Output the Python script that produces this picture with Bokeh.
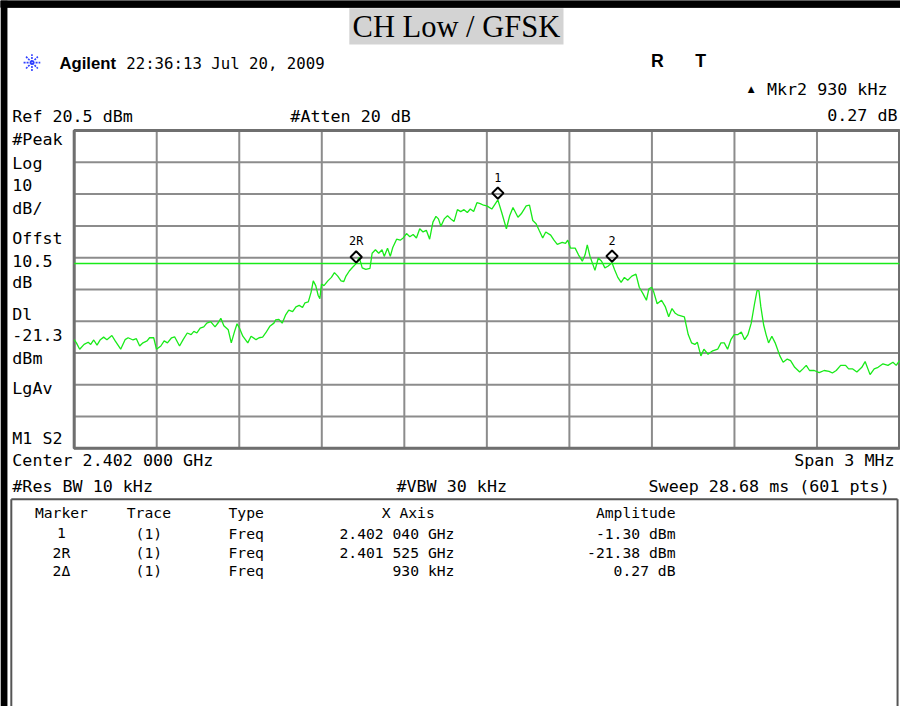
from bokeh.plotting import figure
from bokeh.models import Range1d, ColumnDataSource
from bokeh.embed import file_html
from bokeh.resources import INLINE
from bokeh.core.properties import value
import numpy as np

# ---------------- data ----------------
center_ghz = 2.402
span_mhz = 3.0
ref_level_dbm = 20.5
db_per_div = 10.0
n_div = 10
display_line_dbm = -21.3

freq_offset_mhz = [
    -1.500, -1.492, -1.480, -1.464, -1.449, -1.440, -1.429, -1.417, -1.405, -1.393,
    -1.381, -1.363, -1.351, -1.331, -1.315, -1.304, -1.286, -1.274, -1.262, -1.250,
    -1.235, -1.226, -1.211, -1.201, -1.185, -1.173, -1.161, -1.146, -1.135, -1.117,
    -1.104, -1.089, -1.075, -1.065, -1.054, -1.042, -1.029, -1.018, -1.004, -0.988,
    -0.976, -0.967, -0.956, -0.940, -0.929, -0.917, -0.908, -0.899, -0.887, -0.869,
    -0.857, -0.839, -0.828, -0.815, -0.804, -0.789, -0.774, -0.768, -0.756, -0.744,
    -0.732, -0.720, -0.706, -0.694, -0.682, -0.670, -0.661, -0.649, -0.639, -0.631,
    -0.622, -0.613, -0.607, -0.601, -0.592, -0.578, -0.565, -0.554, -0.542, -0.530,
    -0.520, -0.512, -0.500, -0.488, -0.475, -0.464, -0.453, -0.440, -0.425, -0.417,
    -0.405, -0.393, -0.381, -0.373, -0.361, -0.351, -0.342, -0.328, -0.315, -0.304,
    -0.292, -0.280, -0.268, -0.256, -0.244, -0.232, -0.220, -0.208, -0.196, -0.185,
    -0.176, -0.167, -0.155, -0.143, -0.131, -0.119, -0.107, -0.095, -0.083, -0.071,
    -0.060, -0.048, -0.036, -0.024, -0.012, 0.000, 0.018, 0.040, 0.054, 0.071,
    0.083, 0.095, 0.113, 0.125, 0.143, 0.155, 0.167, 0.179, 0.190, 0.203,
    0.214, 0.232, 0.244, 0.256, 0.274, 0.286, 0.294, 0.304, 0.321, 0.333,
    0.347, 0.357, 0.365, 0.375, 0.393, 0.405, 0.417, 0.429, 0.440, 0.455,
    0.464, 0.476, 0.488, 0.500, 0.512, 0.527, 0.542, 0.554, 0.568, 0.580,
    0.589, 0.599, 0.607, 0.619, 0.635, 0.649, 0.661, 0.673, 0.685, 0.696,
    0.718, 0.732, 0.744, 0.756, 0.765, 0.778, 0.789, 0.804, 0.821, 0.839,
    0.851, 0.863, 0.875, 0.887, 0.899, 0.913, 0.925, 0.937, 0.949, 0.961,
    0.973, 0.982, 0.989, 0.996, 1.006, 1.015, 1.024, 1.036, 1.048, 1.065,
    1.077, 1.092, 1.104, 1.119, 1.137, 1.149, 1.161, 1.173, 1.190, 1.208,
    1.226, 1.244, 1.256, 1.270, 1.286, 1.304, 1.315, 1.330, 1.345, 1.363,
    1.375, 1.393, 1.408, 1.422, 1.440, 1.458, 1.476, 1.488, 1.500,
]
amplitude_dbm = [
    -45.3, -46.3, -48.3, -46.8, -46.1, -46.8, -45.4, -47.0, -45.3, -44.5,
    -45.3, -44.0, -45.7, -48.3, -45.3, -44.7, -45.4, -45.0, -47.3, -46.3,
    -45.7, -44.7, -44.7, -48.3, -47.3, -45.7, -46.3, -44.7, -44.4, -47.3,
    -45.3, -43.2, -43.7, -42.7, -43.2, -41.7, -41.3, -40.1, -39.6, -41.3,
    -39.9, -38.6, -40.9, -42.2, -46.3, -42.7, -40.3, -41.7, -44.2, -46.3,
    -44.2, -45.3, -44.7, -44.5, -43.2, -41.1, -40.1, -39.1, -38.9, -40.1,
    -37.6, -36.0, -36.5, -35.0, -34.5, -35.2, -33.7, -33.4, -30.4, -26.8,
    -28.3, -31.4, -32.4, -27.8, -28.3, -26.8, -25.7, -24.2, -25.3, -26.8,
    -27.0, -25.3, -23.7, -22.5, -21.38, -19.4, -22.7, -23.2, -22.9, -18.1,
    -17.0, -18.1, -17.0, -19.1, -16.5, -19.1, -16.3, -13.7, -14.0, -13.3,
    -11.9, -12.9, -12.2, -13.3, -10.4, -11.4, -10.9, -13.7, -8.3, -6.5,
    -7.3, -9.6, -7.3, -6.3, -7.3, -8.1, -4.4, -5.0, -4.4, -5.3,
    -4.2, -5.0, -2.2, -2.5, -3.0, -3.2, -4.2, -1.30, -5.3, -10.4,
    -6.3, -3.7, -6.8, -5.7, -3.2, -3.0, -7.8, -8.8, -10.9, -13.3,
    -11.4, -12.4, -14.0, -15.3, -14.7, -15.0, -14.0, -16.5, -16.5, -18.6,
    -20.6, -18.6, -15.5, -19.1, -23.5, -19.6, -20.6, -22.7, -22.2, -21.11,
    -23.2, -25.7, -27.3, -25.7, -26.6, -25.3, -24.7, -28.8, -30.9, -32.9,
    -29.3, -28.8, -30.4, -34.0, -32.9, -35.0, -38.1, -35.5, -37.0, -37.6,
    -38.1, -43.7, -46.3, -46.8, -46.1, -50.4, -48.3, -49.9, -48.8, -48.3,
    -46.3, -46.3, -48.3, -45.3, -43.7, -43.7, -42.9, -45.3, -43.7, -40.1,
    -34.0, -29.9, -29.9, -35.0, -40.6, -43.7, -46.3, -44.2, -46.3, -50.4,
    -52.4, -51.4, -51.9, -54.0, -55.5, -54.5, -53.4, -55.0, -55.0, -55.7,
    -55.0, -55.3, -55.8, -55.0, -53.4, -53.4, -54.5, -54.5, -55.5, -54.0,
    -52.2, -56.3, -54.5, -54.0, -52.9, -53.4, -52.4, -53.4, -51.9,
]

marker_names = ["1", "2R", "2"]
marker_offset_mhz = [0.040, -0.475, 0.455]
marker_dbm = [-1.30, -21.38, -21.11]

table_header = ["Marker", "Trace", "Type", "X Axis", "Amplitude"]
table_marker = ["1", "2R", "2\u0394"]
table_trace = ["(1)", "(1)", "(1)"]
table_type = ["Freq", "Freq", "Freq"]
table_xaxis = ["2.402 040 GHz", "2.401 525 GHz", "930 kHz"]
table_amp = ["-1.30 dBm", "-21.38 dBm", "0.27 dB"]

left_labels = ["#Peak", "Log", "10", "dB/", "Offst", "10.5", "dB", "Dl",
               "-21.3", "dBm", "LgAv", "M1  S2"]

# ---------------- layout (reference image pixel space 916 x 722) ----------------
W, H = 900, 706
RW, RH = 916, 722                              # reference space mapped onto canvas
GX0, GX1, GY0, GY1 = 75, 915, 133, 458         # graticule box in reference pixels
S = W / RW                                     # font scale

bottom_dbm = ref_level_dbm - db_per_div * n_div
mhz_per_px = span_mhz / (GX1 - GX0)
db_per_px = (ref_level_dbm - bottom_dbm) / (GY1 - GY0)
x_range = Range1d(-span_mhz / 2 - GX0 * mhz_per_px,
                  span_mhz / 2 + (RW - GX1) * mhz_per_px)
y_range = Range1d(bottom_dbm - (RH - GY1) * db_per_px,
                  ref_level_dbm + GY0 * db_per_px)

p = figure(width=W, height=H, x_range=x_range, y_range=y_range,
           min_border=0, x_axis_location=None, y_axis_location=None,
           toolbar_location=None, output_backend="svg", title=None,
           outline_line_color=None, background_fill_color="white",
           border_fill_color="white")
p.xgrid.grid_line_color = None
p.ygrid.grid_line_color = None
p.extra_x_ranges = {"px": Range1d(0, RW)}
p.extra_y_ranges = {"px": Range1d(RH, 0)}
PXR = dict(x_range_name="px", y_range_name="px")

MONO = value("DejaVu Sans Mono")


def fs(px):
    return "%.1fpx" % (px * S)


# ---------- outer black frame (top and left) ----------
p.quad(left=[0], right=[RW], top=[0], bottom=[7], fill_color="black",
       line_color="black", line_width=1, **PXR)
p.segment(x0=[3.5], y0=[0], x1=[3.5], y1=[RH], line_color="black", line_width=7, **PXR)

# ---------- graticule ----------
xt = np.linspace(-span_mhz / 2, span_mhz / 2, n_div + 1)
yt = np.linspace(bottom_dbm, ref_level_dbm, n_div + 1)
grid_col = "#8c8c8c"
p.segment(x0=xt, y0=bottom_dbm, x1=xt, y1=ref_level_dbm, line_color=grid_col, line_width=2)
p.segment(x0=-span_mhz / 2, y0=yt, x1=span_mhz / 2, y1=yt, line_color=grid_col, line_width=2)
p.quad(left=-span_mhz / 2, right=span_mhz / 2, bottom=bottom_dbm, top=ref_level_dbm,
       fill_color=None, line_color="#6f6f6f", line_width=3)

# display line + trace
green = "#19ea19"
p.segment(x0=-span_mhz / 2, y0=display_line_dbm, x1=span_mhz / 2, y1=display_line_dbm,
          line_color=green, line_width=1.5)
p.line(freq_offset_mhz, amplitude_dbm, line_color=green, line_width=1.3)

# markers (diamond drawn just above the marker point, label above that)
mk_y = np.array(marker_dbm)
p.scatter(marker_offset_mhz, mk_y + 2.1, marker="square", angle=np.pi / 4, size=8,
          fill_color=None, line_color="black", line_width=2)
p.text(marker_offset_mhz, mk_y + 7.0, text=marker_names, text_font=MONO,
       text_font_size=fs(12), text_align="center", text_baseline="middle",
       text_color="black")

# ---------- title box ----------
p.quad(left=355, right=573, top=8, bottom=45, fill_color="#d3d3d3", line_color=None, **PXR)
p.text([464], [27], text=["CH Low / GFSK"], text_font=value("Liberation Serif"),
       text_font_size=fs(31), text_align="center", text_baseline="middle",
       text_color="black", **PXR)

# ---------- header ----------
p.scatter([32], [63.5], marker="asterisk", size=17 * S, line_color="#3040ff",
          line_width=1.6, line_dash="2 1", **PXR)
p.text([60], [64], text=["Agilent"], text_font=value("Liberation Sans"),
       text_font_style="bold", text_font_size=fs(17), text_baseline="middle",
       text_color="black", **PXR)
p.text([128], [64], text=["22:36:13  Jul 20, 2009"], text_font=MONO,
       text_font_size=fs(16), text_baseline="middle", text_color="black", **PXR)
p.text([662, 707], [62, 62], text=["R", "T"], text_font=value("Liberation Sans"),
       text_font_style="bold", text_font_size=fs(18), text_baseline="middle",
       text_color="black", **PXR)
p.text([764], [91], text=["\u25b2"], text_font=value("DejaVu Sans"),
       text_font_size=fs(9), text_align="center", text_baseline="middle",
       text_color="black", **PXR)

left_src = ColumnDataSource(dict(
    x=[12, 295, 12, 12, 403] + [12] * len(left_labels),
    y=[118, 118, 470, 497, 497] + [142, 166, 189, 212, 243, 266, 288, 321, 342, 366, 396, 447],
    t=["Ref 20.5 dBm", "#Atten 20 dB", "Center 2.402 000 GHz", "#Res BW 10 kHz",
       "#VBW 30 kHz"] + left_labels))
p.text("x", "y", text="t", source=left_src, text_font=MONO, text_font_size=fs(17),
       text_baseline="middle", text_color="black", **PXR)

right_src = ColumnDataSource(dict(
    x=[913, 913, 910, 905], y=[91, 117, 470, 497],
    t=["Mkr2  930 kHz", "0.27 dB", "Span 3 MHz", "Sweep 28.68 ms (601 pts)"]))
p.text("x", "y", text="t", source=right_src, text_font=MONO, text_font_size=fs(17),
       text_align="right", text_baseline="middle", text_color="black", **PXR)

# ---------- marker table ----------
p.segment(x0=[11, 11, 913], y0=[510, 510, 510], x1=[913, 11, 913], y1=[510, RH, RH],
          line_color="#555555", line_width=2, **PXR)

row_y = [545, 564, 583]
hdr_y = 524
TF = dict(text_font=MONO, text_font_size=fs(15), text_baseline="middle",
          text_color="black", **PXR)
p.text([62, 151, 415], [hdr_y] * 3, text=[table_header[0], table_header[1], table_header[3]],
       text_align="center", **TF)
p.text([232], [hdr_y], text=[table_header[2]], text_align="left", **TF)
p.text([687], [hdr_y], text=[table_header[4]], text_align="right", **TF)
p.text([62] * 3, row_y, text=table_marker, text_align="center", **TF)
p.text([151] * 3, row_y, text=table_trace, text_align="center", **TF)
p.text([232] * 3, row_y, text=table_type, text_align="left", **TF)
p.text([462] * 3, row_y, text=table_xaxis, text_align="right", **TF)
p.text([687] * 3, row_y, text=table_amp, text_align="right", **TF)

open("out.html", "w").write(file_html(p, INLINE))
